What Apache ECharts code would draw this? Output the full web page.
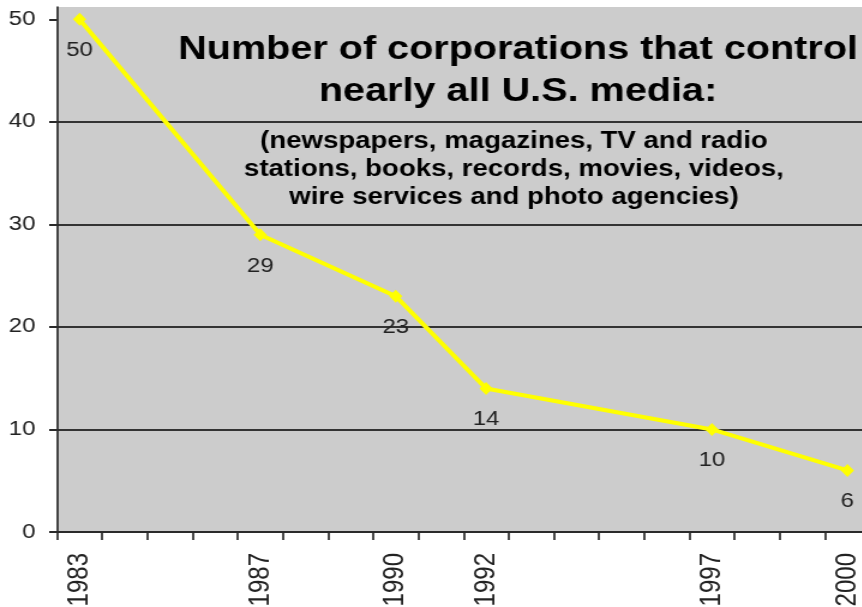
<!DOCTYPE html>
<html>
<head>
<meta charset="utf-8">
<title>Media corporations</title>
<script src="https://cdn.jsdelivr.net/npm/echarts@6/dist/echarts.min.js"></script>
<style>
  html, body { margin: 0; padding: 0; background: #fff; overflow: hidden; }
  #stage { width: 862px; height: 607px; overflow: hidden; }
  /* the chart is laid out narrower and widened horizontally */
  #chart { width: 718px; height: 607px; transform: scaleX(1.2); transform-origin: 0 0; }
</style>
</head>
<body>
<div id="stage"><div id="chart"></div></div>
<script>
const years = [1983, 1987, 1990, 1992, 1997, 2000];
const corporations = [50, 29, 23, 14, 10, 6];
const yTicks = [0, 10, 20, 30, 40, 50];
const titleLines = ['Number of corporations that control', 'nearly all U.S. media:'];
const noteLines = [
  '(newspapers, magazines, TV and radio',
  'stations, books, records, movies, videos,',
  'wire services and photo agencies)'
];

const FONT = '"Liberation Sans", Arial, Helvetica, sans-serif';

// one category per calendar year, so the spacing follows time
const allYears = [];
for (let y = years[0]; y <= years[years.length - 1]; y++) allYears.push(String(y));
const valueByYear = {};
years.forEach((y, i) => { valueByYear[y] = corporations[i]; });
const seriesData = allYears.map(y => (y in valueByYear ? valueByYear[y] : null));
const labelled = new Set(years.map(String));

const chart = echarts.init(document.getElementById('chart'), null, { renderer: 'canvas' });

chart.setOption({
  backgroundColor: '#ffffff',
  animation: false,
  title: [
    {
      text: titleLines.join('\n'),
      left: 431.7,
      top: 29,
      textAlign: 'center',
      padding: 0,
      textStyle: { fontFamily: FONT, fontSize: 33, fontWeight: 'bold', color: '#000', lineHeight: 42 }
    },
    {
      text: noteLines.join('\n'),
      left: 428.3,
      top: 128,
      textAlign: 'center',
      padding: 0,
      textStyle: { fontFamily: FONT, fontSize: 23, fontWeight: 'bold', color: '#000', lineHeight: 28 }
    }
  ],
  grid: {
    left: 47.5,
    right: -7,
    top: 7,
    bottom: 75,
    show: true,
    backgroundColor: '#cccccc',
    borderWidth: 0,
    containLabel: false,
    outerBoundsMode: 'none'
  },
  xAxis: {
    type: 'category',
    data: allYears,
    boundaryGap: true,
    axisLine: { show: true, lineStyle: { color: '#2a2a2a', width: 2 } },
    axisTick: { show: true, interval: 0, length: 8, lineStyle: { color: '#2a2a2a', width: 1.7 } },
    axisLabel: {
      interval: (i, v) => labelled.has(v),
      rotate: 90,
      margin: 21,
      fontFamily: FONT,
      fontSize: 24,
      color: '#222'
    },
    splitLine: { show: false }
  },
  yAxis: {
    type: 'value',
    min: 0,
    max: 51.2,
    interval: 10,
    axisLine: { show: true, lineStyle: { color: '#2a2a2a', width: 1.7 } },
    axisTick: { show: true, length: 6.5, customValues: yTicks, lineStyle: { color: '#2a2a2a', width: 2 } },
    axisLabel: { customValues: yTicks, margin: 18, fontFamily: FONT, fontSize: 20, color: '#222' },
    splitLine: { show: true, showMaxLine: false, lineStyle: { color: '#333', width: 2 } }
  },
  series: [
    {
      type: 'line',
      data: seriesData,
      connectNulls: true,
      symbol: 'diamond',
      symbolSize: [11, 13],
      lineStyle: { color: '#ffff00', width: 4 },
      itemStyle: { color: '#ffff00' },
      label: {
        show: true,
        position: 'bottom',
        distance: 15,
        fontFamily: FONT,
        fontSize: 20,
        color: '#222'
      }
    }
  ]
});
</script>
</body>
</html>
